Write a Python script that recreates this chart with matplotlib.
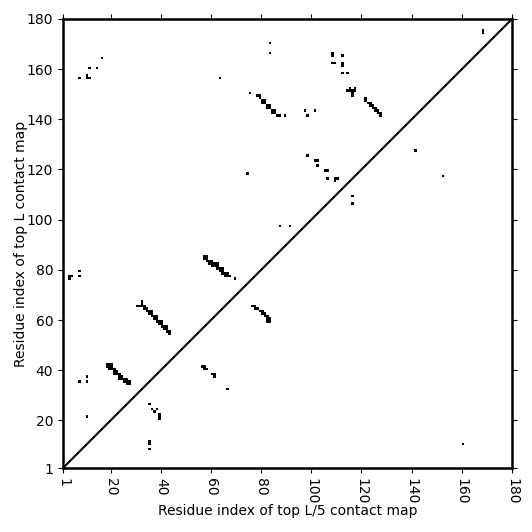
import numpy as np
import matplotlib
matplotlib.use("Agg")
import matplotlib.pyplot as plt

L = 180
tick_values = [1, 20, 40, 60, 80, 100, 120, 140, 160, 180]

# Contacts of the top-L map, drawn above the diagonal as (x residue, y residue)
top_L_contacts = [
    (3, 77), (3, 76), (4, 77), (7, 79), (7, 77),
    (7, 156), (10, 157), (10, 156), (11, 156), (11, 160), (14, 160), (16, 164),
    (7, 35), (10, 37), (10, 35), (10, 21),
    # helix 1
    (18, 42), (19, 42), (20, 42), (18, 41), (19, 41), (20, 41), (19, 40), (20, 40), (21, 40),
    (21, 39), (22, 39), (21, 38), (22, 38), (23, 38), (23, 37), (24, 37), (23, 36), (24, 36), (25, 36),
    (25, 35), (26, 36), (26, 35), (27, 35), (26, 34), (27, 34),
    # helix 2
    (30, 65), (31, 65), (32, 65), (33, 65), (32, 66), (32, 67),
    (33, 64), (34, 64), (34, 63), (35, 63), (35, 62), (36, 62), (36, 61), (37, 61),
    (37, 60), (38, 60), (38, 59), (39, 59), (39, 58), (40, 58), (40, 57), (41, 57),
    (41, 56), (42, 56), (42, 55), (43, 55), (43, 54), (36, 63), (38, 61), (40, 59), (42, 57),
    # helix 3
    (57, 84), (58, 84), (57, 85), (58, 85), (58, 83), (59, 83), (59, 82), (60, 82), (60, 81), (61, 82),
    (61, 81), (62, 81), (62, 80), (63, 80), (63, 79), (64, 79), (64, 78), (65, 78),
    (65, 77), (66, 78), (66, 77), (67, 77), (60, 83), (62, 82), (64, 80), (69, 76),
    (63, 156), (74, 118), (75, 150), (83, 170), (83, 166),
    (78, 149), (79, 149), (79, 148), (80, 147), (81, 147), (80, 146), (81, 146),
    (82, 145), (83, 145), (82, 144), (83, 144), (84, 143), (85, 143), (84, 142),
    (85, 142), (86, 141), (87, 141), (89, 141),
    (87, 97), (91, 97),
    (97, 143), (101, 143), (98, 141),
    (98, 125), (101, 123), (102, 123), (102, 121), (105, 119), (106, 119),
    (106, 116), (109, 116), (110, 116), (109, 115),
    (108, 165), (108, 166), (108, 162), (109, 162), (112, 165), (112, 161), (112, 162),
    (112, 158), (114, 158),
    (115, 152), (117, 152), (114, 151), (115, 151), (116, 151), (117, 151), (116, 150), (116, 149),
    (121, 148), (121, 147), (122, 146), (123, 146), (123, 145), (124, 145), (124, 144),
    (125, 144), (125, 143), (126, 143), (126, 142), (127, 142), (127, 141),
    (168, 174), (168, 175),
]

# Contacts of the top-L/5 map, drawn below the diagonal as (x residue, y residue)
top_L5_contacts = [
    (35, 26), (36, 24), (38, 24), (37, 23), (39, 22), (39, 21), (39, 20),
    (35, 10), (35, 11), (35, 8),
    (56, 41), (57, 41), (57, 40), (58, 40), (60, 38), (61, 38), (61, 37), (66, 32),
    (76, 65), (77, 65), (77, 64), (78, 64), (79, 63), (80, 63), (80, 62), (81, 62),
    (81, 61), (82, 61), (82, 60), (83, 60), (82, 59), (83, 59),
    (116, 109), (116, 106), (141, 127), (152, 117), (160, 10),
]

mat = np.zeros((L, L))
for x, y in top_L_contacts + top_L5_contacts:
    mat[y - 1, x - 1] = 1
masked = np.ma.masked_equal(mat, 0)
edges = np.arange(1, L + 2)

fig = plt.figure(figsize=(5.32, 5.32), dpi=100)
ax = fig.add_axes([0.1184, 0.1203, 0.844, 0.844])
ax.pcolormesh(edges, edges, masked, cmap='gray_r', vmin=0, vmax=1,
              shading='flat', antialiased=False, linewidth=0)
ax.plot([1, L], [1, L], color='black', lw=1.5)
ax.set_xlim(1, L)
ax.set_ylim(1, L)
ax.set_xticks(tick_values)
ax.set_yticks(tick_values)
ax.tick_params(top=True, right=True, direction='out', labelsize=10)
for lab in ax.get_xticklabels():
    lab.set_rotation(-90)
for sp in ax.spines.values():
    sp.set_linewidth(1.8)
ax.set_xlabel("Residue index of top L/5 contact map", fontsize=10, labelpad=0)
ax.set_ylabel("Residue index of top L contact map", fontsize=10, labelpad=-1)

fig.savefig("out.png", dpi=100)
